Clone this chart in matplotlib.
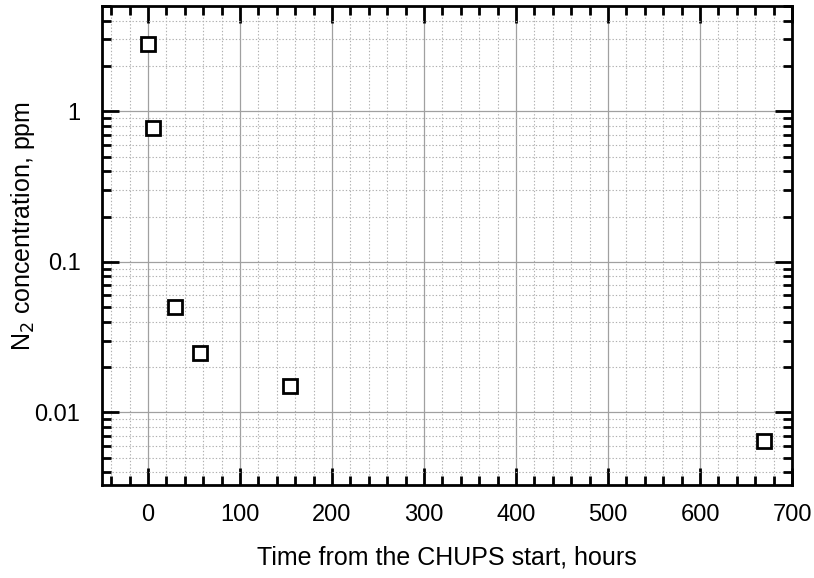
import matplotlib
matplotlib.use("Agg")
import matplotlib.pyplot as plt
from matplotlib.ticker import MultipleLocator, LogLocator, FixedLocator, FixedFormatter, NullFormatter

plt.rcParams['font.family'] = ['Liberation Sans', 'DejaVu Sans']

time_h = [0, 5, 29, 56, 154, 670]
n2_ppm = [2.8, 0.78, 0.05, 0.025, 0.015, 0.0065]
xticks = [0, 100, 200, 300, 400, 500, 600, 700]
yticks = [0.01, 0.1, 1]
ytick_labels = ["0.01", "0.1", "1"]

W, H = 814, 578
L, R, T, B = 102, 792, 6, 485

fig = plt.figure(figsize=(W/100, H/100), dpi=100)
ax = fig.add_axes([L/W, 1-B/H, (R-L)/W, (B-T)/H])

ax.plot(time_h, n2_ppm, linestyle='none', marker='s', markersize=10,
        markerfacecolor='white', markeredgecolor='black', markeredgewidth=2.0, zorder=5)

ax.set_yscale('log')
ax.set_xlim(-50, 700)
ax.set_ylim(0.0033, 5)

ax.xaxis.set_major_locator(FixedLocator(xticks))
ax.xaxis.set_minor_locator(MultipleLocator(20))
ax.yaxis.set_major_locator(FixedLocator(yticks))
ax.yaxis.set_major_formatter(FixedFormatter(ytick_labels))
ax.yaxis.set_minor_locator(LogLocator(base=10, subs=[2, 3, 4, 5, 6, 7, 8, 9]))
ax.yaxis.set_minor_formatter(NullFormatter())

ax.grid(True, which='major', color='#a0a0a0', linewidth=0.9, linestyle='-')
ax.grid(True, which='minor', color='#b0b0b0', linewidth=0.8, linestyle=(0, (1.2, 1.8)))
ax.set_axisbelow(True)

ax.tick_params(which='both', direction='in', top=True, right=True, labelsize=17, colors='black')
ax.tick_params(which='major', length=12, width=2.0)
ax.tick_params(which='minor', length=6.5, width=2.0)
ax.tick_params(axis='x', which='major', pad=14)
ax.tick_params(axis='y', which='major', pad=15.5)

for s in ax.spines.values():
    s.set_linewidth(2.0)

ax.set_xlabel("Time from the CHUPS start, hours", fontsize=18, va='center')
ax.xaxis.set_label_coords(0.5, (B-557)/(B-T))
ax.set_ylabel("N$_2$ concentration, ppm", fontsize=18, va='center')
ax.yaxis.set_label_coords((23-L)/(R-L), (B-226)/(B-T))

fig.savefig("out.png", dpi=100)
